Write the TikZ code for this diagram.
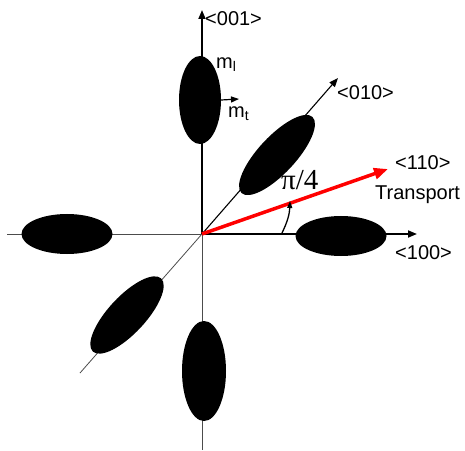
\documentclass[tikz,border=0pt]{standalone}
\usepackage{fontspec}
\setmainfont{Liberation Sans}
\newfontfamily\pifont{Liberation Serif}
\usetikzlibrary{shapes.geometric,arrows.meta}
\begin{document}
\begin{tikzpicture}[x=1pt,y=1pt,
  lab/.style={font=\fontsize{20}{24}\selectfont, inner sep=0pt},
  blob/.style={ellipse, fill=black, draw=none, inner sep=0pt},
  posax/.style={line width=1.8pt, -{Triangle[length=9pt,width=7pt]}},
  negax/.style={line width=0.8pt, black!70},
  diag/.style={line width=1.1pt, -{Triangle[length=9pt,width=7pt]}}]
\useasboundingbox (0,0) rectangle (465,450);
\coordinate (O) at (202,216);
\coordinate (Ztop) at (202,440);
\coordinate (Zbot) at (202,0);
\coordinate (Xr) at (417,216);
\coordinate (Xl) at (7,216);
\coordinate (Dt) at (338,372);
\coordinate (Db) at (80,77);
\coordinate (Rt) at (388,281);
\coordinate (A1) at (282,217);
\coordinate (A2) at (290,249);
% negative parts
\draw[negax] (O) -- (Zbot);
\draw[negax] (O) -- (Xl);
\draw[negax] (O) -- (Db);
% positive axes
\draw[posax] (O) -- (Ztop);
\draw[posax] (O) -- (Xr);
\draw[diag] (O) -- (Dt);
% ellipses
\node[blob, minimum width=42pt, minimum height=88pt] (E1) at (200,350) {};
\node[blob, minimum width=44pt, minimum height=100pt] (E2) at (204,79) {};
\node[blob, minimum width=91pt, minimum height=40pt] (E3) at (67,216) {};
\node[blob, minimum width=91pt, minimum height=40pt] (E4) at (341,214) {};
\node[blob, minimum width=104pt, minimum height=37pt, rotate=47] (E5) at (277,295) {};
\node[blob, minimum width=100pt, minimum height=37pt, rotate=47] (E6) at (127,135) {};
% m_t arrow
\coordinate (Mt) at (239,351);
\draw[line width=1.2pt, -{Triangle[length=8pt,width=6pt]}] (E1.east) -- (Mt);
% red transport arrow
\draw[red, line width=3.5pt, -{Triangle[length=14pt,width=11pt]}] (O) -- (Rt);
% angle arrow
\draw[line width=1.3pt, -{Triangle[length=7pt,width=5pt]}] (A1) to[bend right=12] (A2);
% labels
\node[lab, anchor=west] (L001) at (205,431) {<001>};
\node[lab, anchor=west] (Lml) at (216,385) {m\textsubscript{l}};
\node[lab, anchor=west] (Lmt) at (228,336) {m\textsubscript{t}};
\node[lab, anchor=west] (L010) at (337,357) {<010>};
\node[lab, anchor=west] (L110) at (395,287) {<110>};
\node[lab, anchor=west] (Ltr) at (375,255) {Transport};
\node[inner sep=0pt, anchor=west, font=\pifont\fontsize{29}{34}\selectfont] (Lpi) at (281,270) {π/4};
\node[lab, anchor=west] (L100) at (395,197) {<100>};
\end{tikzpicture}
\end{document}
